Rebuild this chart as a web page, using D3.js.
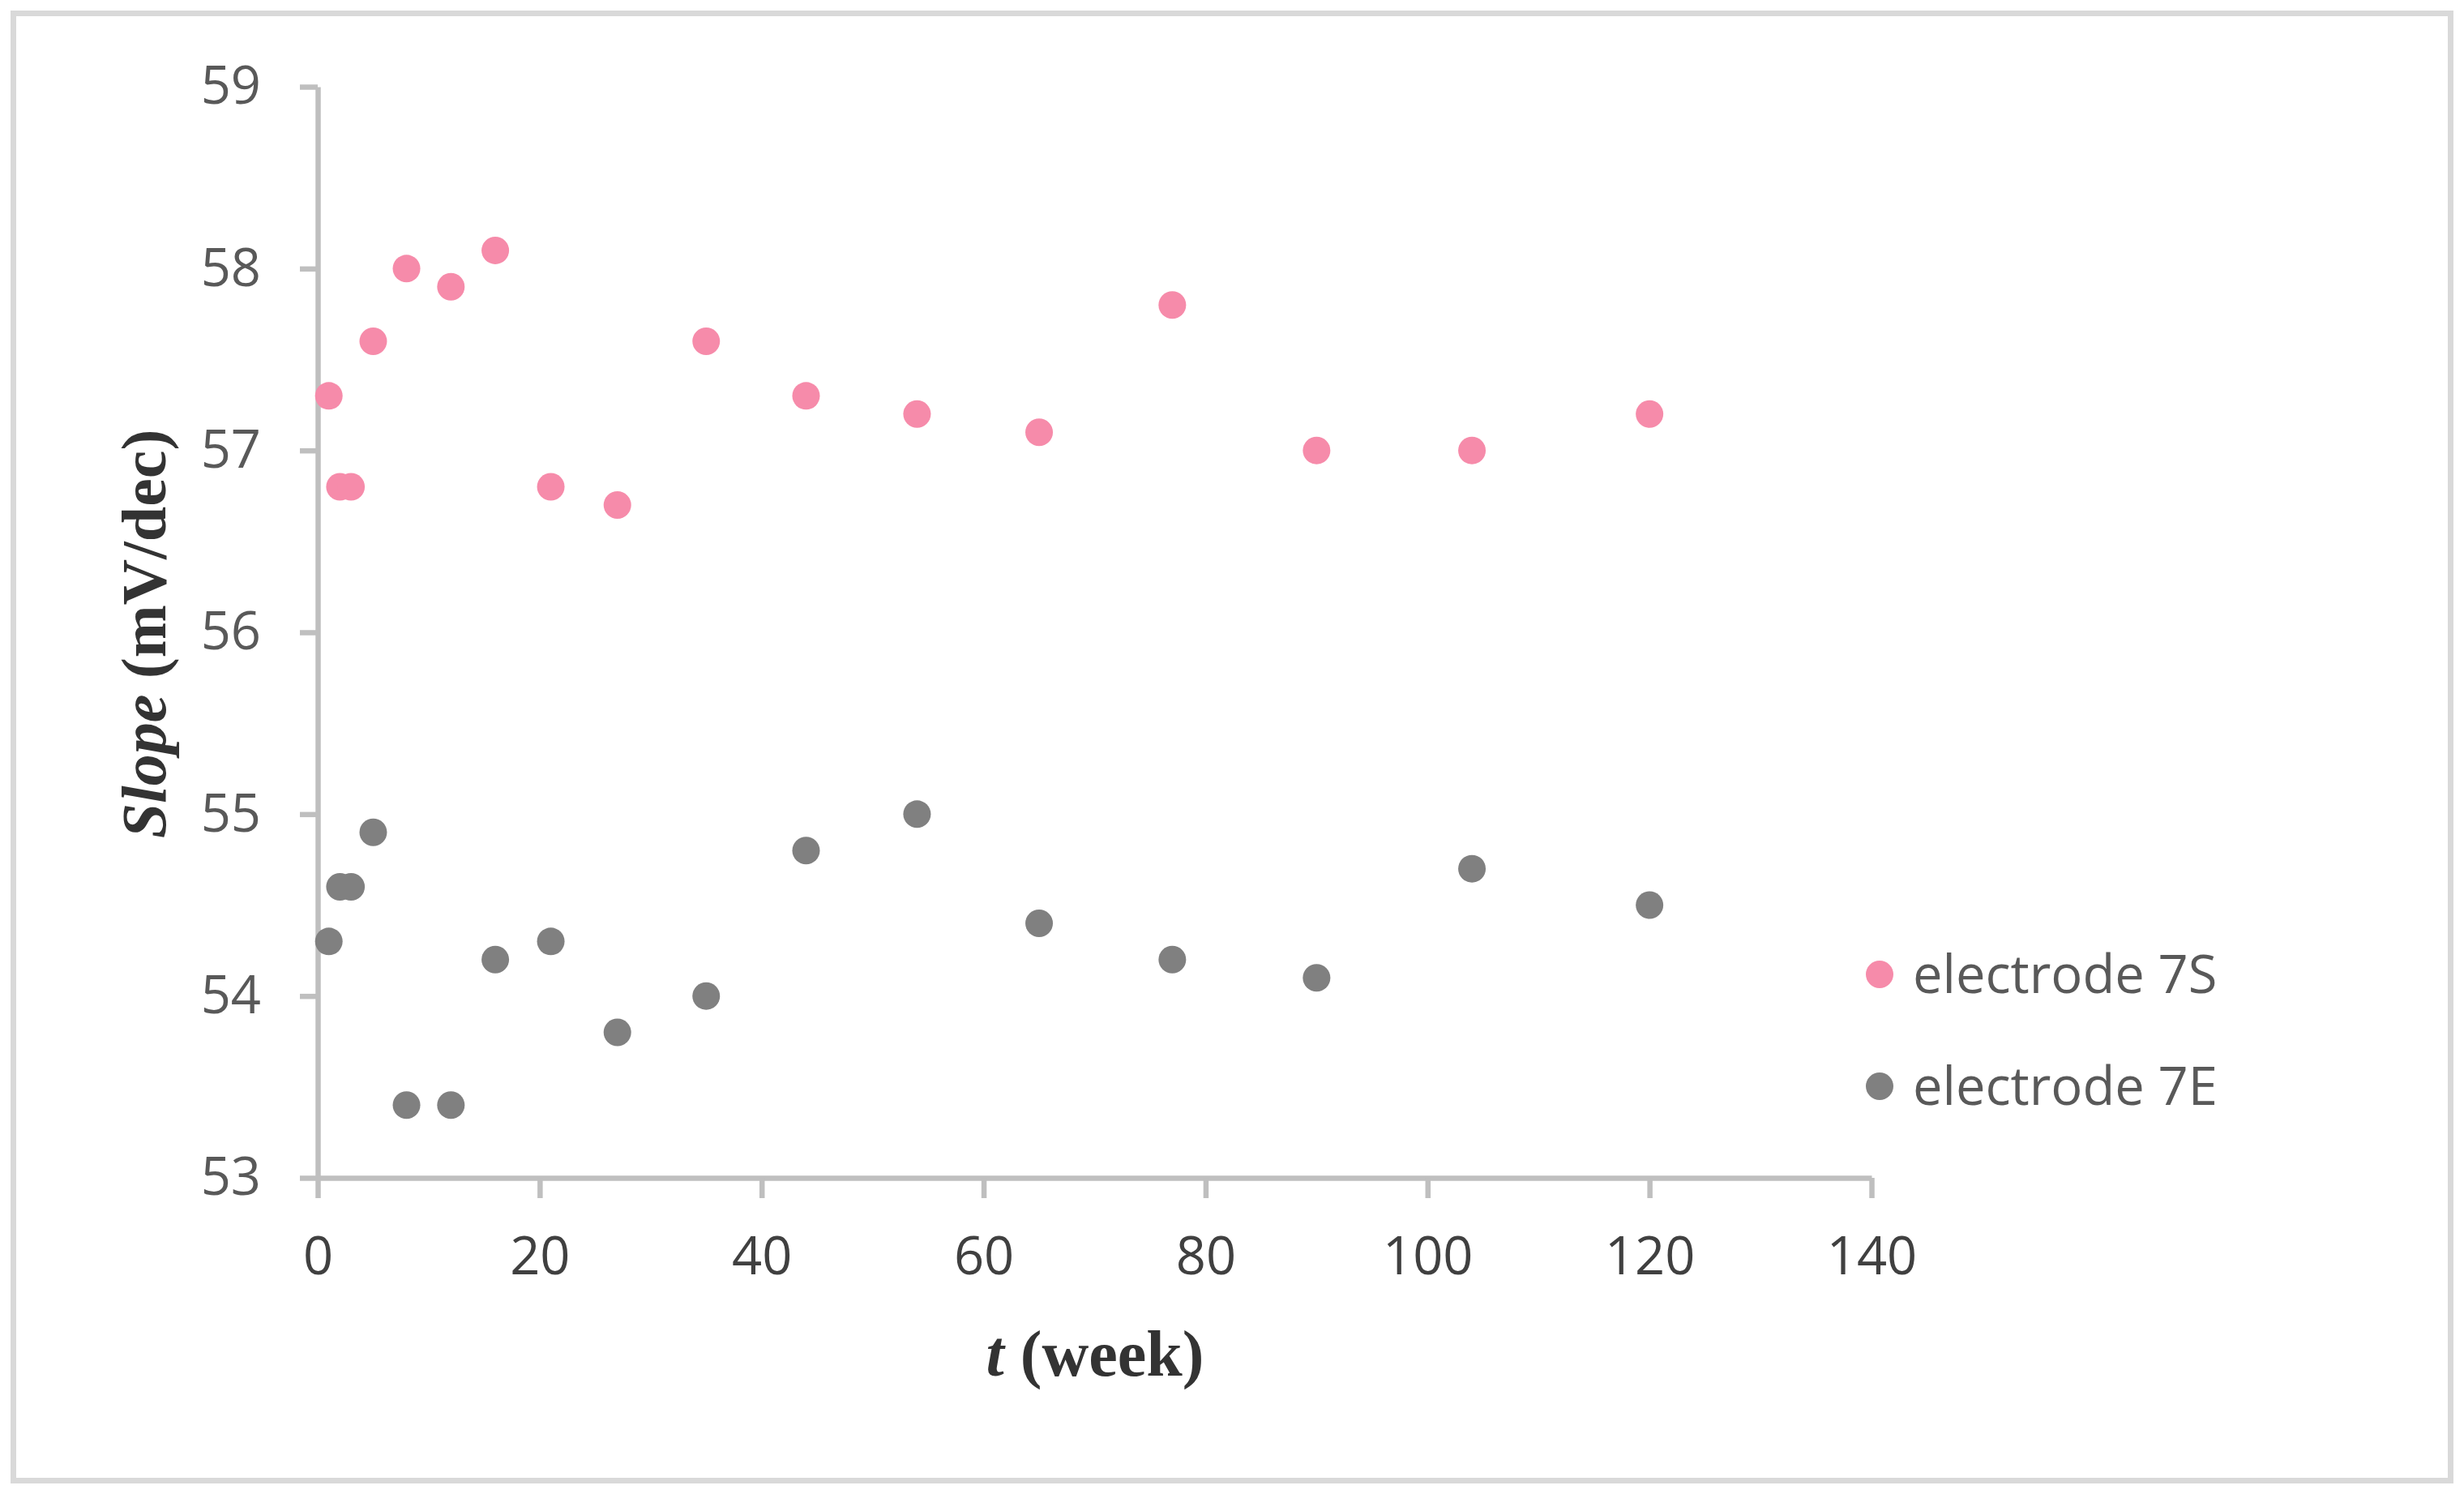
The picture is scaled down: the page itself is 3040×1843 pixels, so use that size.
<!DOCTYPE html>
<html>
<head>
<meta charset="utf-8">
<script src="https://cdn.jsdelivr.net/npm/d3@7"></script>
<style>
  body { margin: 0; background: #fff; }
  svg { display: block; }
</style>
</head>
<body>
<script>
// data
const weeks = [1, 2, 3, 5, 8, 12, 16, 21, 27, 35, 44, 54, 65, 77, 90, 104, 120];
const slope7S = [57.3, 56.8, 56.8, 57.6, 58.0, 57.9, 58.1, 56.8, 56.7, 57.6, 57.3, 57.2, 57.1, 57.8, 57.0, 57.0, 57.2];
const slope7E = [54.3, 54.6, 54.6, 54.9, 53.4, 53.4, 54.2, 54.3, 53.8, 54.0, 54.8, 55.0, 54.4, 54.2, 54.1, 54.7, 54.5];
const seriesNames = ["electrode 7S", "electrode 7E"];
const xTicks = [0, 20, 40, 60, 80, 100, 120, 140];
const yTicks = [53, 54, 55, 56, 57, 58, 59];

const W = 3040, H = 1843;
const colors = ["#F68BAA", "#808080"];
const axisColor = "#BFBFBF";
const sans = "'Open Sans', sans-serif";
const serif = "'Liberation Serif', serif";

const svg = d3.select("body").append("svg")
  .attr("width", W)
  .attr("height", H);

svg.append("rect")
  .attr("x", 16.5).attr("y", 16.5)
  .attr("width", W - 33).attr("height", H - 33)
  .attr("fill", "#fff")
  .attr("stroke", "#D9D9D9")
  .attr("stroke-width", 7);

const x = d3.scaleLinear().domain([0, 140]).range([392, 2309]);
const y = d3.scaleLinear().domain([53, 59]).range([1453, 107]);

// y axis
const gy = svg.append("g")
  .attr("transform", `translate(${x(0)},0)`)
  .call(d3.axisLeft(y).tickValues(yTicks).tickFormat(d3.format("d"))
    .tickSize(22).tickSizeOuter(0).tickPadding(48));

// x axis
const gx = svg.append("g")
  .attr("transform", `translate(0,${y(53)})`)
  .call(d3.axisBottom(x).tickValues(xTicks).tickFormat(d3.format("d"))
    .tickSize(25).tickSizeOuter(0).tickPadding(48));

[gx, gy].forEach((g) => {
  g.select(".domain").attr("stroke", axisColor).attr("stroke-width", 6.5);
  g.selectAll(".tick line").attr("stroke", axisColor).attr("stroke-width", 6.5);
  g.selectAll(".tick text")
    .attr("font-family", sans)
    .attr("font-size", 65);
});
gy.selectAll(".tick text").attr("fill", "#595959");
gx.selectAll(".tick text").attr("fill", "#404040");

// points
const series = [slope7S, slope7E];
series.forEach((vals, i) => {
  svg.append("g")
    .selectAll("circle")
    .data(weeks.map((w, j) => ({ w, v: vals[j] })))
    .join("circle")
    .attr("cx", (d) => x(d.w))
    .attr("cy", (d) => y(d.v))
    .attr("r", 17)
    .attr("fill", colors[i]);
});

// axis titles
const xt = svg.append("text")
  .attr("x", 1351)
  .attr("y", 1697)
  .attr("text-anchor", "middle")
  .attr("font-family", serif)
  .attr("font-weight", "bold")
  .attr("font-size", 80)
  .attr("fill", "#333");
xt.append("tspan").attr("font-style", "italic").text("t");
xt.append("tspan").text(" (week)");

const yt = svg.append("text")
  .attr("transform", "translate(204,782) rotate(-90)")
  .attr("text-anchor", "middle")
  .attr("font-family", serif)
  .attr("font-weight", "bold")
  .attr("font-size", 78)
  .attr("fill", "#333");
yt.append("tspan").attr("font-style", "italic").text("Slope");
yt.append("tspan").text(" (mV/dec)");

// legend
const legend = svg.append("g");
seriesNames.forEach((name, i) => {
  const ly = 1202 + i * 138;
  legend.append("circle")
    .attr("cx", 2319)
    .attr("cy", ly)
    .attr("r", 17)
    .attr("fill", colors[i]);
  legend.append("text")
    .attr("x", 2360)
    .attr("y", ly)
    .attr("dy", "0.35em")
    .attr("font-family", sans)
    .attr("font-size", 65)
    .attr("fill", "#595959")
    .text(name);
});
</script>
</body>
</html>
